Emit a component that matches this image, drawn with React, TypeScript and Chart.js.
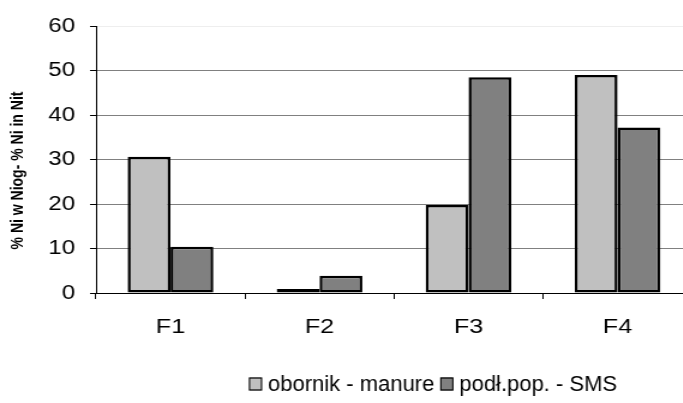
import React, { useEffect, useRef } from "react";
import { Chart, registerables } from "chart.js";

Chart.register(...registerables);

const categories = ["F1", "F2", "F3", "F4"];
const manureLabel = "obornik - manure";
const smsLabel = "podł.pop. - SMS";
const manureValues = [30.6, 0.9, 19.8, 49.0];
const smsValues = [10.4, 3.9, 48.5, 37.2];
const yTitle = "% Ni w Niog- % Ni in Nit";
const yMin = 0;
const yMax = 60;
const yStep = 10;

const S = 1.2; // horizontal stretch of the reference
const W = 579;
const H = 403;
const FONT = "'Liberation Sans', Arial, sans-serif";

export default function App() {
  const ref = useRef<HTMLCanvasElement | null>(null);
  useEffect(() => {
    if (!ref.current) return;
    const overlay = {
      id: "overlay",
      afterDraw(chart: any) {
        const ctx = chart.ctx;
        const ca = chart.chartArea;
        // y axis title
        ctx.save();
        ctx.font = `bold 14px ${FONT}`;
        ctx.fillStyle = "#000";
        ctx.textAlign = "center";
        ctx.textBaseline = "middle";
        ctx.translate(18 / S, (ca.top + ca.bottom) / 2 + 11);
        ctx.rotate(-Math.PI / 2);
        ctx.fillText(yTitle, 0, 0);
        ctx.restore();
        // legend (drawn in screen units, undoing the stretch)
        ctx.save();
        ctx.scale(1 / S, 1);
        ctx.font = `22px ${FONT}`;
        ctx.textBaseline = "middle";
        const box = 13;
        const gap = 6;
        const itemGap = 6;
        const items = chart.data.datasets.map((d: any) => ({
          label: d.label,
          color: d.backgroundColor,
          w: box + gap + ctx.measureText(d.label).width,
        }));
        const total = items.reduce((a: number, b: any) => a + b.w, 0) + itemGap * (items.length - 1);
        let x = Math.round(433 - total / 2);
        const y = 384;
        for (const it of items) {
          ctx.fillStyle = it.color;
          ctx.fillRect(x, y - box / 2, box, box);
          ctx.strokeStyle = "#000";
          ctx.lineWidth = 1.2;
          ctx.strokeRect(x + 0.5, y - box / 2 + 0.5, box - 1, box - 1);
          ctx.fillStyle = "#000";
          ctx.fillText(it.label, x + box + gap, y + 1);
          x += it.w + itemGap;
        }
        ctx.restore();
      },
    };
    const chart = new Chart(ref.current, {
      type: "bar",
      data: {
        labels: categories,
        datasets: [
          {
            label: manureLabel,
            data: manureValues,
            backgroundColor: "#C0C0C0",
            borderColor: "#000000",
            borderWidth: 2.5,
            borderSkipped: false,
            categoryPercentage: 0.575,
            barPercentage: 1,
          },
          {
            label: smsLabel,
            data: smsValues,
            backgroundColor: "#808080",
            borderColor: "#000000",
            borderWidth: 2.5,
            borderSkipped: false,
            categoryPercentage: 0.575,
            barPercentage: 1,
          },
        ],
      },
      options: {
        responsive: false,
        animation: false,
        devicePixelRatio: 1,
        layout: { padding: { top: 26, right: 2.3, left: 0, bottom: 0 } },
        plugins: {
          legend: { display: false },
          tooltip: { enabled: false },
        },
        scales: {
          x: {
            grid: {
              offset: true,
              drawOnChartArea: false,
              drawTicks: true,
              tickLength: 6,
              tickColor: "#000",
            },
            border: { color: "#000", width: 1 },
            ticks: {
              color: "#000",
              font: { family: FONT, size: 21 },
              padding: 16,
              maxRotation: 0,
            },
            afterFit(scale: any) {
              scale.height = H - 293;
            },
          },
          y: {
            min: yMin,
            max: yMax,
            grid: {
              color: (c: any) => (c.tick && c.tick.value === yMax ? "#eeeeee" : "#808080"),
              tickColor: "#000",
              tickLength: 5,
              drawTicks: true,
            },
            border: { color: "#000", width: 1 },
            ticks: {
              stepSize: yStep,
              color: "#000",
              font: { family: FONT, size: 20 },
              padding: 12.5,
            },
            afterFit(scale: any) {
              scale.width = 80;
            },
          },
        },
      },
      plugins: [overlay],
    });
    return () => chart.destroy();
  }, []);
  return (
    <div
      style={{
        position: "fixed",
        left: 0,
        top: 0,
        width: 683,
        height: 403,
        overflow: "hidden",
        background: "#fff",
      }}
    >
      <div style={{ width: W, height: H, transform: `scaleX(${S})`, transformOrigin: "0 0" }}>
        <canvas ref={ref} width={W} height={H} />
      </div>
    </div>
  );
}
